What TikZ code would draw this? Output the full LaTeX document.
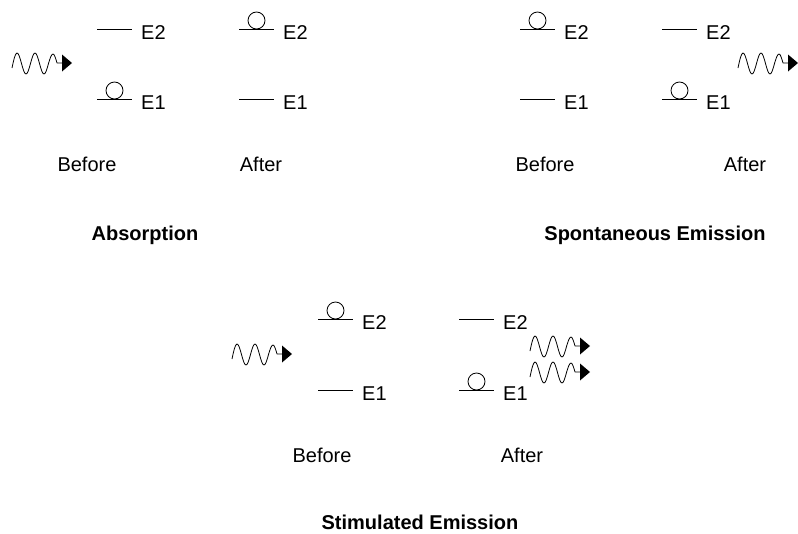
\documentclass[tikz,border=0pt]{standalone}
\usepackage{fontspec}
\setmainfont{Liberation Sans}
\newcommand{\txtsize}{\fontsize{20}{24}\selectfont}
\tikzset{
  levelline/.style={line width=0.8pt},
  elabel/.style={anchor=base west, inner sep=0pt, font=\txtsize},
  caption/.style={anchor=base, inner sep=0pt, font=\txtsize},
  heading/.style={anchor=base, inner sep=0pt, font=\txtsize\bfseries},
  % energy level: short line with its label
  pics/level/.style={code={
    \draw[levelline] (0,0) -- (35,0);
    \node[elabel] (-lab) at (44,10) {#1};
  }},
  % electron sitting on a level
  pics/electron/.style={code={
    \draw[line width=0.8pt] (17.5,-8.5) circle[radius=8.5pt];
  }},
  % photon: wavy line ending in an arrowhead
  pics/photon/.style={code={
    \draw[line width=0.8pt, line join=round]
      (0,5) sin (5,-10) cos (9.5,0.5) sin (14,11) cos (18.5,0.5)
      sin (23,-10) cos (27.5,0.5) sin (32,11) cos (36.5,0.5)
      sin (41,-9) cos (45,0) -- (50,0);
    \fill (50,-8.5) -- (60,0) -- (50,8.5) -- cycle;
  }},
}
\begin{document}
\begin{tikzpicture}[x=1pt,y=-1pt]
\useasboundingbox (0,0) rectangle (798,533);

% ---- Absorption ----
\pic (abph) at (12,63) {photon};
\pic (ab2) at (97,29) {level=E2};
\pic (ab1) at (97,99) {level=E1};
\pic (abe) at (97,99) {electron};
\pic (aa2) at (239,29) {level=E2};
\pic (aae) at (239,29) {electron};
\pic (aa1) at (239,99) {level=E1};
\node[caption] (abbefore) at (87,171) {Before};
\node[caption] (abafter) at (261,171) {After};
\node[heading] (abtitle) at (145,240) {Absorption};

% ---- Spontaneous emission ----
\pic (sb2) at (520,29) {level=E2};
\pic (sbe) at (520,29) {electron};
\pic (sb1) at (520,99) {level=E1};
\pic (sa2) at (662,29) {level=E2};
\pic (sa1) at (662,99) {level=E1};
\pic (sae) at (662,99) {electron};
\pic (spph) at (738,63) {photon};
\node[caption] (spbefore) at (545,171) {Before};
\node[caption] (spafter) at (745,171) {After};
\node[heading] (sptitle) at (655,240) {Spontaneous Emission};

% ---- Stimulated emission ----
\pic (stin) at (232,354) {photon};
\pic (tb2) at (318,319) {level=E2};
\pic (tbe) at (318,319) {electron};
\pic (tb1) at (318,390) {level=E1};
\pic (ta2) at (459,319) {level=E2};
\pic (ta1) at (459,390) {level=E1};
\pic (tae) at (459,390) {electron};
\pic (stout1) at (530,346) {photon};
\pic (stout2) at (530,372) {photon};
\node[caption] (stbefore) at (322,462) {Before};
\node[caption] (stafter) at (522,462) {After};
\node[heading] (sttitle) at (420,529) {Stimulated Emission};
\end{tikzpicture}
\end{document}
